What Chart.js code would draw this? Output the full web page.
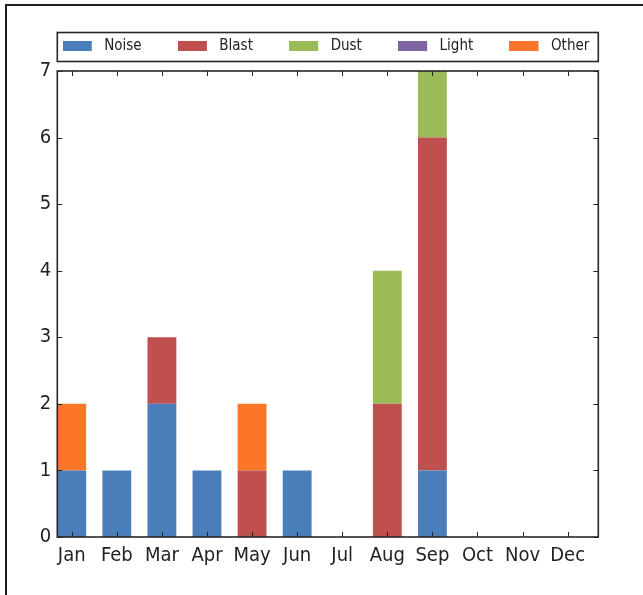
<!DOCTYPE html>
<html>
<head>
<meta charset="utf-8">
<script src="https://cdn.jsdelivr.net/npm/chart.js@4/dist/chart.umd.min.js"></script>
<style>
  html, body { margin: 0; padding: 0; background: #fff; }
  canvas { display: block; }
</style>
</head>
<body>
<canvas id="c" width="643" height="595"></canvas>
<script>
// ---- data ----
const months = ['Jan','Feb','Mar','Apr','May','Jun','Jul','Aug','Sep','Oct','Nov','Dec'];
const seriesNames = ['Noise','Blast','Dust','Light','Other'];
const noise = [1,1,2,1,0,1,0,0,1,0,0,0];
const blast = [0,0,1,0,1,0,0,2,5,0,0,0];
const dust  = [0,0,0,0,0,0,0,2,1,0,0,0];
const light = [0,0,0,0,0,0,0,0,0,0,0,0];
const other = [1,0,0,0,1,0,0,0,0,0,0,0];
const yTickValues = [0,1,2,3,4,5,6,7];

// ---- styling ----
const colors = ['#4A7EBB','#C0504D','#9BBB59','#8064A2','#FB7628'];
const FONT = "'DejaVu Sans Condensed', 'DejaVu Sans', sans-serif";
const TXT = '#222222';
const BAR_FRAC = 0.64;

function swatch(color) {
  const c = document.createElement('canvas');
  c.width = 34; c.height = 10;
  const g = c.getContext('2d');
  g.fillStyle = color;
  g.fillRect(0, 0, 29, 10);
  return c;
}

const seriesValues = [noise, blast, dust, light, other];
const datasets = seriesNames.map((name, k) => ({
  label: name,
  data: seriesValues[k].map((v, i) => ({ x: i + BAR_FRAC / 2, y: v })),
  backgroundColor: colors[k],
  borderWidth: 0,
  stack: 'all',
  barPercentage: BAR_FRAC,
  categoryPercentage: 1.0
}));

const decoPlugin = {
  id: 'deco',
  beforeDraw(chart) {
    const { ctx, width, height } = chart;
    ctx.save();
    ctx.fillStyle = '#fff';
    ctx.fillRect(0, 0, width, height);
    ctx.strokeStyle = '#1c1c1c';
    ctx.lineWidth = 2;
    ctx.beginPath();
    ctx.moveTo(6, height);
    ctx.lineTo(6, 5);
    ctx.lineTo(width, 5);
    ctx.stroke();
    ctx.restore();
  },
  afterDatasetsDraw(chart) {
    const { ctx, chartArea: a, scales } = chart;
    ctx.save();
    ctx.strokeStyle = '#262626';
    ctx.lineWidth = 1;
    ctx.beginPath();
    scales.y.ticks.forEach(t => {
      const py = Math.round(scales.y.getPixelForValue(t.value)) + 0.5;
      ctx.moveTo(a.left, py); ctx.lineTo(a.left + 5, py);
      ctx.moveTo(a.right, py); ctx.lineTo(a.right - 5, py);
    });
    scales.x.ticks.forEach(t => {
      const px = Math.round(scales.x.getPixelForValue(t.value)) + 0.5;
      ctx.moveTo(px, a.bottom); ctx.lineTo(px, a.bottom - 5);
      ctx.moveTo(px, a.top); ctx.lineTo(px, a.top + 5);
    });
    ctx.stroke();
    ctx.lineWidth = 1.6;
    ctx.strokeRect(a.left, a.top, a.right - a.left, a.bottom - a.top);
    const lg = chart.legend;
    const cy = lg.top + lg.options.labels.padding + lg.options.labels.font.size / 2;
    ctx.strokeRect(a.left, cy - 13.5, a.right - a.left, 29);
    ctx.restore();
  }
};

new Chart(document.getElementById('c'), {
  type: 'bar',
  data: { datasets },
  plugins: [decoPlugin],
  options: {
    responsive: false,
    animation: false,
    devicePixelRatio: 1,
    layout: { padding: { top: 2.3, left: 26.5, right: 0, bottom: 20 } },
    plugins: {
      tooltip: { enabled: false },
      legend: {
        position: 'top',
        align: 'start',
        labels: {
          usePointStyle: true,
          pointStyleWidth: 34,
          padding: 36.2,
          color: TXT,
          font: { family: FONT, size: 15 },
          generateLabels(chart) {
            return chart.data.datasets.map((ds, i) => ({
              text: ds.label,
              pointStyle: swatch(ds.backgroundColor),
              fillStyle: ds.backgroundColor,
              strokeStyle: 'rgba(0,0,0,0)',
              lineWidth: 0,
              hidden: false,
              datasetIndex: i,
              fontColor: TXT
            }));
          }
        }
      }
    },
    scales: {
      x: {
        type: 'linear',
        position: 'bottom',
        min: 0,
        max: 12,
        offset: false,
        grid: { display: false, drawTicks: false, offset: false },
        border: { display: false },
        afterBuildTicks(scale) {
          scale.ticks = months.map((m, i) => ({ value: i + BAR_FRAC / 2 }));
        },
        ticks: {
          autoSkip: false,
          maxRotation: 0,
          padding: 7,
          color: TXT,
          font: { family: FONT, size: 20 },
          callback: (v, i) => months[i]
        }
      },
      xt: {
        type: 'linear',
        position: 'top',
        display: true,
        grid: { display: false, drawTicks: false },
        border: { display: false },
        ticks: { display: false },
        afterFit(s) { s.height = 7.5; }
      },
      y: {
        type: 'linear',
        position: 'left',
        stacked: true,
        min: 0,
        max: 7,
        grid: { display: false, drawTicks: false },
        border: { display: false },
        afterBuildTicks(scale) {
          scale.ticks = yTickValues.map(v => ({ value: v }));
        },
        ticks: {
          padding: 6,
          color: TXT,
          font: { family: FONT, size: 20 }
        },
        afterFit(s) { s.width = 30.8; }
      },
      yr: {
        type: 'linear',
        position: 'right',
        display: true,
        grid: { display: false, drawTicks: false },
        border: { display: false },
        ticks: { display: false },
        afterFit(s) { s.width = 44.7; }
      }
    }
  }
});
</script>
</body>
</html>
